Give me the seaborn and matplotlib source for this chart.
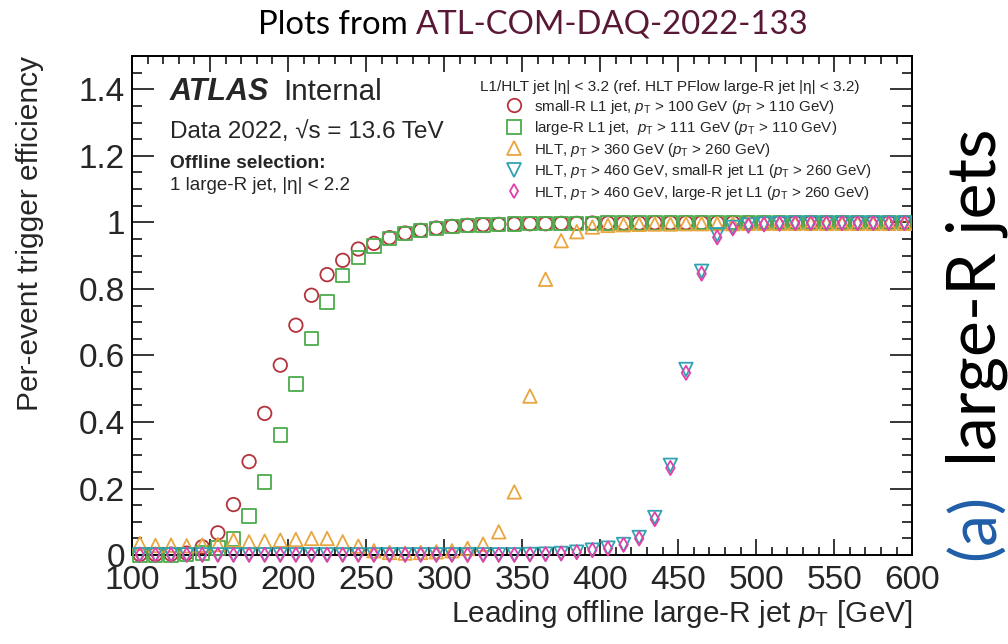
import matplotlib
matplotlib.use("Agg")
import matplotlib.pyplot as plt
from matplotlib.lines import Line2D
from matplotlib.ticker import MultipleLocator, FuncFormatter
import pandas as pd
import seaborn as sns

# Bin centres of the leading offline large-R jet pT [GeV]
pt_bins = [105, 115, 125, 135, 145, 155, 165, 175, 185, 195,
           205, 215, 225, 235, 245, 255, 265, 275, 285, 295,
           305, 315, 325, 335, 345, 355, 365, 375, 385, 395,
           405, 415, 425, 435, 445, 455, 465, 475, 485, 495,
           505, 515, 525, 535, 545, 555, 565, 575, 585, 595]

eff_l1_small_r = [0.002, 0.002, 0.003, 0.006, 0.025, 0.067, 0.152, 0.281, 0.426, 0.571,
                  0.691, 0.781, 0.843, 0.886, 0.920, 0.937, 0.954, 0.968, 0.976, 0.983,
                  0.988, 0.991, 0.993, 0.994, 0.995, 0.996, 0.996, 0.997, 0.997, 0.998,
                  0.998, 0.998, 0.998, 0.999, 0.999, 0.999, 0.999, 0.999, 0.999, 0.999,
                  0.999, 0.999, 0.999, 0.999, 0.999, 0.999, 0.999, 0.999, 0.999, 0.999]

eff_l1_large_r = [0.001, 0.001, 0.001, 0.002, 0.006, 0.022, 0.048, 0.117, 0.220, 0.361,
                  0.514, 0.651, 0.761, 0.840, 0.895, 0.929, 0.952, 0.966, 0.975, 0.982,
                  0.987, 0.990, 0.992, 0.994, 0.995, 0.996, 0.996, 0.997, 0.997, 0.997,
                  0.998, 0.998, 0.998, 0.998, 0.998, 0.998, 0.999, 0.999, 0.999, 0.999,
                  0.999, 0.999, 0.999, 0.999, 0.999, 0.999, 0.999, 0.999, 0.999, 0.999]

eff_hlt_360 = [0.035, 0.029, 0.030, 0.028, 0.030, 0.032, 0.045, 0.040, 0.042, 0.045,
               0.047, 0.050, 0.050, 0.040, 0.027, 0.013, 0.008, 0.006, 0.008, 0.010,
               0.013, 0.020, 0.033, 0.070, 0.190, 0.478, 0.829, 0.945, 0.972, 0.986,
               0.991, 0.993, 0.994, 0.995, 0.995, 0.996, 0.996, 0.996, 0.996, 0.997,
               0.997, 0.997, 0.997, 0.997, 0.997, 0.997, 0.997, 0.997, 0.997, 0.997]

eff_hlt_460_small_r_l1 = [0.001, 0.001, 0.001, 0.001, 0.001, 0.001, 0.001, 0.001, 0.001, 0.001,
                          0.001, 0.001, 0.001, 0.001, 0.001, 0.001, 0.001, 0.001, 0.001, 0.001,
                          0.001, 0.001, 0.001, 0.001, 0.001, 0.002, 0.003, 0.005, 0.009, 0.015,
                          0.021, 0.032, 0.053, 0.113, 0.270, 0.558, 0.853, 0.963, 0.985, 0.992,
                          0.995, 0.997, 0.998, 0.998, 0.998, 0.998, 0.998, 0.998, 0.998, 0.998]

eff_hlt_460_large_r_l1 = [0.001, 0.001, 0.001, 0.001, 0.001, 0.001, 0.001, 0.001, 0.001, 0.001,
                          0.001, 0.001, 0.001, 0.001, 0.001, 0.001, 0.001, 0.001, 0.001, 0.001,
                          0.001, 0.001, 0.001, 0.001, 0.001, 0.002, 0.003, 0.005, 0.009, 0.015,
                          0.020, 0.031, 0.050, 0.108, 0.262, 0.548, 0.846, 0.955, 0.982, 0.990,
                          0.994, 0.996, 0.998, 0.998, 0.998, 0.998, 0.998, 0.998, 0.998, 0.998]

series_labels = [
    r"small-R L1 jet, $p_{\mathrm{T}}$ > 100 GeV ($p_{\mathrm{T}}$ > 110 GeV)",
    r"large-R L1 jet,  $p_{\mathrm{T}}$ > 111 GeV ($p_{\mathrm{T}}$ > 110 GeV)",
    r"HLT, $p_{\mathrm{T}}$ > 360 GeV ($p_{\mathrm{T}}$ > 260 GeV)",
    r"HLT, $p_{\mathrm{T}}$ > 460 GeV, small-R jet L1 ($p_{\mathrm{T}}$ > 260 GeV)",
    r"HLT, $p_{\mathrm{T}}$ > 460 GeV, large-R jet L1 ($p_{\mathrm{T}}$ > 260 GeV)",
]
series_values = [eff_l1_small_r, eff_l1_large_r, eff_hlt_360,
                 eff_hlt_460_small_r_l1, eff_hlt_460_large_r_l1]
series_colors = ["#b3343c", "#4bab4b", "#e9a53e", "#2fa3b3", "#e040a8"]
series_markers = ["o", "s", "^", "v", "d"]
series_sizes = [94, 94, 94, 94, 52]

legend_title = "L1/HLT jet |η| < 3.2 (ref. HLT PFlow large-R jet |η| < 3.2)"
x_ticks = [100, 150, 200, 250, 300, 350, 400, 450, 500, 550, 600]
y_ticks = [0, 0.2, 0.4, 0.6, 0.8, 1.0, 1.2, 1.4]

df = pd.concat(
    [pd.DataFrame({"pt": pt_bins, "eff": vals, "trigger": lab})
     for lab, vals in zip(series_labels, series_values)],
    ignore_index=True,
)

sns.set_theme(style="ticks")
plt.rcParams["font.family"] = ["Liberation Sans", "DejaVu Sans"]
plt.rcParams["mathtext.fontset"] = "custom"
plt.rcParams["mathtext.rm"] = "Liberation Sans"
plt.rcParams["mathtext.it"] = "Liberation Sans:italic"
plt.rcParams["mathtext.bf"] = "Liberation Sans:bold"
plt.rcParams["axes.edgecolor"] = "black"

fig = plt.figure(figsize=(10.08, 6.44), dpi=100)
fig.patch.set_facecolor("white")
ax = fig.add_axes([0.131, 0.138, 0.774, 0.775])

for lab, col, mk, sz in zip(series_labels, series_colors, series_markers, series_sizes):
    sns.scatterplot(data=df[df["trigger"] == lab], x="pt", y="eff", ax=ax,
                    marker=mk, s=sz, color=col, facecolor="none", edgecolor=col,
                    linewidth=1.3, clip_on=False, legend=False, zorder=3)

ax.set_xlim(100, 600)
ax.set_ylim(0, 1.5)
ax.set_xticks(x_ticks)
ax.set_yticks(y_ticks)
ax.xaxis.set_minor_locator(MultipleLocator(10))
ax.yaxis.set_minor_locator(MultipleLocator(0.05))
ax.yaxis.set_major_formatter(FuncFormatter(lambda v, p: f"{v:g}"))
ax.xaxis.set_major_formatter(FuncFormatter(lambda v, p: f"{v:g}"))

for s in ax.spines.values():
    s.set_linewidth(1.4)
    s.set_color("black")
ax.tick_params(axis="both", which="both", direction="in", top=True, right=True,
               width=1.1, color="black")
ax.tick_params(axis="x", which="major", length=11.5, labelsize=24, pad=7)
ax.tick_params(axis="x", which="minor", length=5.8)
ax.tick_params(axis="y", which="major", length=15.8, labelsize=24, pad=5)
ax.tick_params(axis="y", which="minor", length=7.2)

ax.set_xlabel(r"Leading offline large-R jet $p_{\mathrm{T}}$ [GeV]", fontsize=21.4,
              loc="right")
ax.xaxis.set_label_coords(1.0, -0.085)
ax.set_ylabel("Per-event trigger efficiency", fontsize=21.5, loc="top")
ax.yaxis.set_label_coords(-0.113, 1.0)

# Experiment label and selection text
ax.text(0.0487, 0.912, "ATLAS", transform=ax.transAxes, fontsize=22,
        fontweight="bold", fontstyle="italic", va="baseline")
ax.text(0.194, 0.912, "Internal", transform=ax.transAxes, fontsize=21.3, va="baseline")
ax.text(0.0487, 0.836, "Data 2022, √s = 13.6 TeV", transform=ax.transAxes,
        fontsize=17.5, va="baseline")
ax.text(0.0487, 0.776, "Offline selection:", transform=ax.transAxes, fontsize=13.8,
        fontweight="bold", va="baseline")
ax.text(0.0487, 0.731, "1 large-R jet, |η| < 2.2", transform=ax.transAxes,
        fontsize=13.5, va="baseline")

# Legend
ax.text(0.446, 0.93, legend_title, transform=ax.transAxes, fontsize=11.1,
        va="baseline")
handles = [Line2D([], [], linestyle="none", marker=mk, markersize=sz ** 0.5,
                  markerfacecolor="none", markeredgecolor=col, markeredgewidth=1.3)
           for col, mk, sz in zip(series_colors, series_markers, series_sizes)]
ax.legend(handles, series_labels, loc="upper left", bbox_to_anchor=(0.479, 0.9166),
          frameon=False, fontsize=10.9, borderpad=0, borderaxespad=0,
          handlelength=1.1, handletextpad=0.76, labelspacing=0.23)

# Header and side caption
t1 = fig.text(258 / 1008, 1 - 34 / 644, "Plots from ", fontsize=23.7, family="Lato",
              color="black", va="baseline", ha="left")
fig.canvas.draw()
bb = t1.get_window_extent()
fig.text(bb.x1 / 1008, 1 - 34 / 644, "ATL-COM-DAQ-2022-133", fontsize=23.7,
         family="Lato", color="#5a1837", va="baseline", ha="left")

fig.text(995 / 1008, 1 - 560 / 644, "(a)", fontsize=46, family="Lato",
         color="#1f5ea8", rotation=90, rotation_mode="anchor", ha="left",
         va="baseline")
fig.text(995 / 1008, 1 - 466 / 644, "large-R jets", fontsize=49, family="Lato",
         color="black", rotation=90, rotation_mode="anchor", ha="left",
         va="baseline")

fig.savefig("out.png", dpi=100, facecolor="white")
